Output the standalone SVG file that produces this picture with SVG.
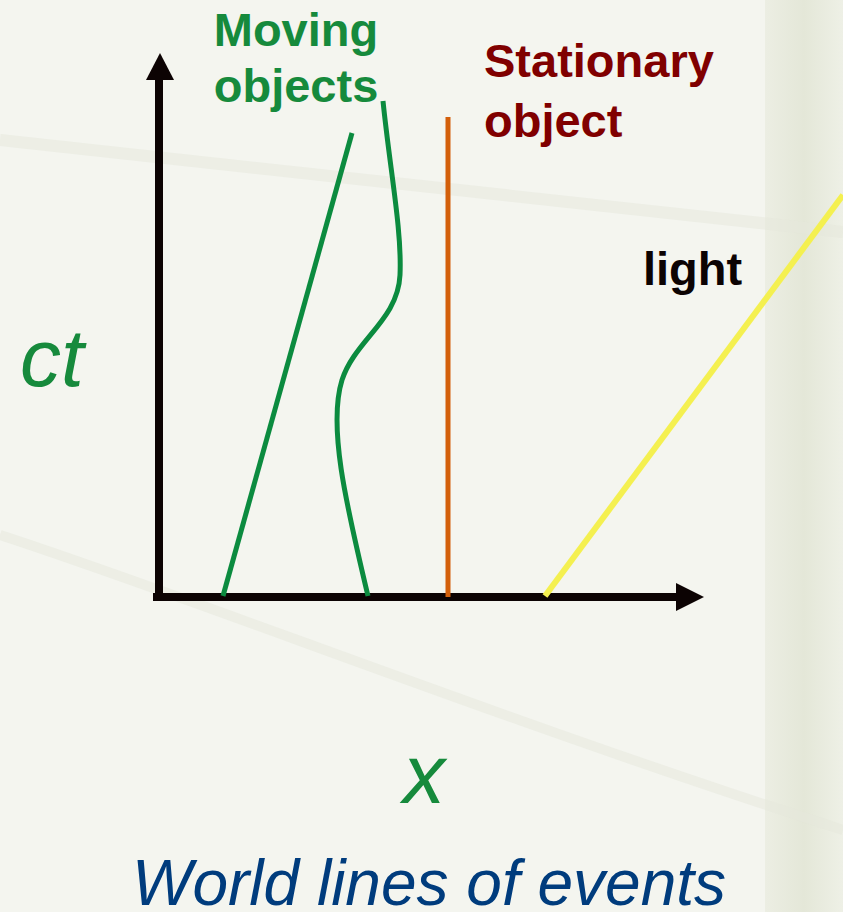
<svg xmlns="http://www.w3.org/2000/svg" width="843" height="912" viewBox="0 0 843 912">
<defs>
<style>
.lbl{font-family:"Liberation Sans",Arial,sans-serif;font-weight:bold;font-size:47px}
.it{font-family:"Liberation Sans",Arial,sans-serif;font-style:italic}
.axis{stroke:#0c0303;stroke-width:8;fill:none}
.wl{fill:none;stroke-width:5}
</style>
<linearGradient id="panel" x1="0" y1="0" x2="1" y2="0">
<stop offset="0" stop-color="#eceee3"/>
<stop offset="0.5" stop-color="#e4e7d8"/>
<stop offset="1" stop-color="#eef0e6"/>
</linearGradient>
</defs>
<rect width="843" height="912" fill="#f4f5ef"/>
<rect x="765" y="0" width="78" height="912" fill="url(#panel)"/>
<path d="M0 140 L843 232" stroke="#e6e8dc" stroke-width="12" fill="none" opacity="0.5"/>
<path d="M0 535 C200 600 500 720 843 830" stroke="#e6e8dc" stroke-width="10" fill="none" opacity="0.5"/>
<g id="axes">
<path class="axis" d="M159 597 V78"/>
<polygon points="160,53 146,80 174,80" fill="#0c0303"/>
<path class="axis" d="M153 597 H678"/>
<polygon points="704,597 676,583 676,611" fill="#0c0303"/>
</g>
<g id="worldlines">
<path class="wl" stroke="#0b8b3f" d="M223 596 L352 133"/>
<path class="wl" stroke="#0b8b3f" d="M383 101 C390 170 402 230 400 275 C398 320 355 340 342 380 C328 425 345 500 368 596"/>
<path class="wl" stroke="#d35f0a" stroke-width="6" d="M448 117 V597"/>
<path stroke="#f4f050" stroke-width="6" fill="none" d="M545 596 L843 195"/>
</g>
<g id="labels">
<text class="lbl" fill="#168a3c" x="296" y="46" text-anchor="middle">Moving</text>
<text class="lbl" fill="#168a3c" x="296" y="102" text-anchor="middle">objects</text>
<text class="lbl" fill="#800000" x="484" y="77">Stationary</text>
<text class="lbl" fill="#800000" x="484" y="137">object</text>
<text class="lbl" fill="#0c0303" x="643" y="285">light</text>
<text class="it" fill="#168a3c" font-size="82" x="20" y="386">ct</text>
<text class="it" fill="#168a3c" font-size="84" x="403" y="803">x</text>
<text class="it" fill="#003c7d" font-size="64" x="132" y="905">World lines of events</text>
</g>
</svg>
